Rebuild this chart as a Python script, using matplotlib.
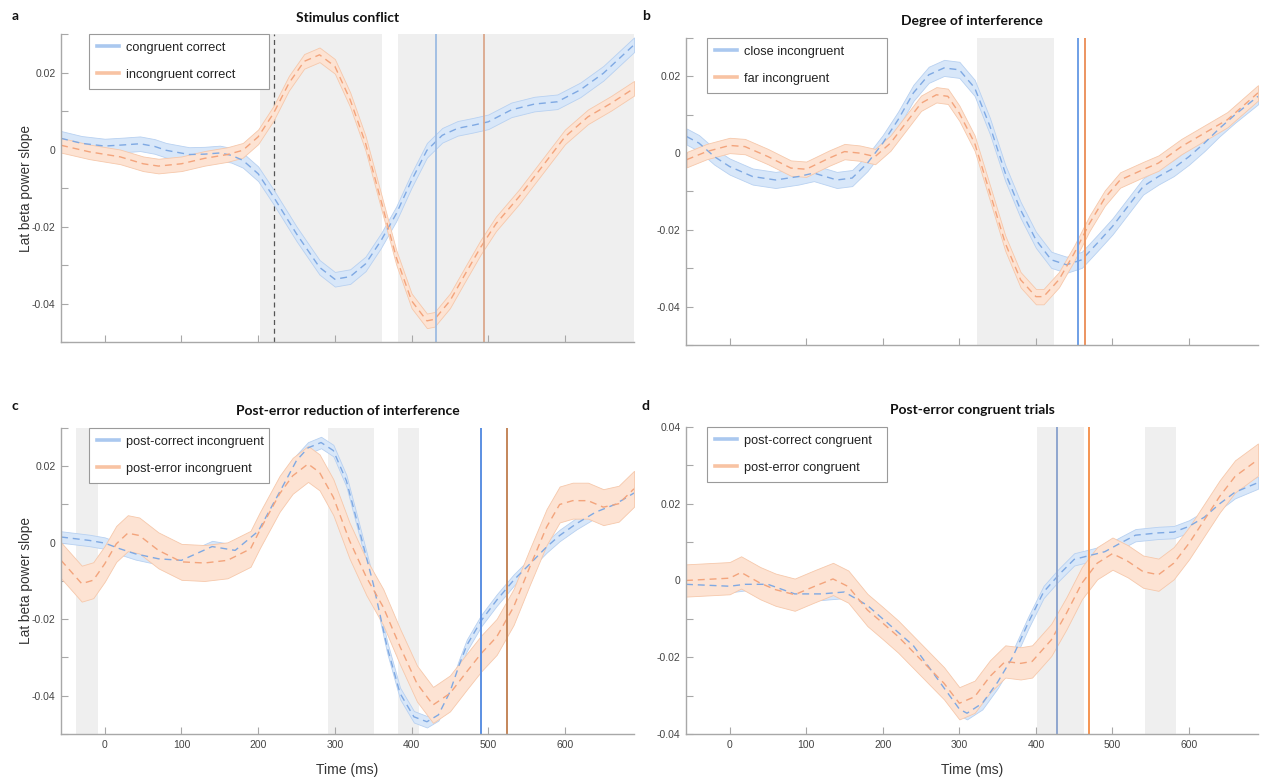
import numpy as np
import matplotlib
matplotlib.use("Agg")
import matplotlib.pyplot as plt
from matplotlib.lines import Line2D

plt.rcParams['font.family'] = ['Liberation Sans', 'DejaVu Sans']

# ---- panel a: stimulus conflict ----
a_t_cong = [-57, -30, 0, 25, 46, 65, 80, 110, 130, 150, 165, 180, 200, 220, 250, 280, 300, 320,
            340, 360, 380, 400, 420, 440, 460, 480, 500, 530, 560, 590, 620, 650, 690]
a_y_cong = [0.0029, 0.0016, 0.0009, 0.0012, 0.0015, 0.0008, -0.0002, -0.0013, -0.0012, -0.0009,
            -0.0015, -0.0028, -0.0063, -0.0123, -0.0219, -0.0306, -0.0337, -0.0330, -0.0297,
            -0.0237, -0.0167, -0.0080, -0.0002, 0.0037, 0.0055, 0.0063, 0.0072, 0.0103, 0.0118,
            0.0124, 0.0155, 0.0198, 0.0272]
a_t_incong = [-57, -20, 20, 50, 70, 100, 130, 160, 180, 200, 220, 240, 260, 280, 300, 320, 340,
              360, 380, 400, 420, 430, 450, 470, 490, 510, 540, 570, 600, 630, 660, 690]
a_y_incong = [0.0011, -0.0006, -0.0019, -0.0037, -0.0043, -0.0037, -0.0023, -0.0013, -0.0002,
              0.0033, 0.0094, 0.0172, 0.0229, 0.0246, 0.0216, 0.0129, 0.0016, -0.0132, -0.0280,
              -0.0393, -0.0445, -0.0441, -0.0393, -0.0323, -0.0254, -0.0193, -0.0123, -0.0045,
              0.0033, 0.0085, 0.0120, 0.0159]
a_sem = (0.0019, 0.0019)
a_shade = [(202, 362), (382, 690)]
a_onset = 221
a_vlines = [432, 494]

# ---- panel b: degree of interference ----
b_t_close = [-56, -40, -20, 0, 30, 60, 90, 110, 140, 160, 180, 200, 220, 240, 260, 280, 300, 320,
             340, 360, 380, 400, 420, 440, 460, 480, 500, 520, 540, 560, 580, 600, 620, 640, 660, 690]
b_y_close = [0.0043, 0.0026, -0.0009, -0.0035, -0.0061, -0.0070, -0.0061, -0.0052, -0.0070,
             -0.0065, -0.0026, 0.0026, 0.0087, 0.0157, 0.0204, 0.0222, 0.0217, 0.0170, 0.0070,
             -0.0052, -0.0148, -0.0226, -0.0278, -0.0291, -0.0278, -0.0235, -0.0191, -0.0139,
             -0.0087, -0.0061, -0.0039, -0.0009, 0.0026, 0.0065, 0.0100, 0.0148]
b_t_far = [-56, -30, 0, 20, 50, 80, 100, 130, 150, 170, 190, 210, 230, 250, 270, 285, 300, 320,
           340, 360, 380, 400, 410, 430, 450, 470, 490, 510, 540, 560, 590, 620, 650, 690]
b_y_far = [-0.0017, 0.0004, 0.0020, 0.0017, -0.0009, -0.0039, -0.0042, -0.0013, 0.0004, 0.0000,
           -0.0009, 0.0026, 0.0078, 0.0130, 0.0152, 0.0148, 0.0104, 0.0026, -0.0104, -0.0235,
           -0.0330, -0.0374, -0.0374, -0.0330, -0.0261, -0.0183, -0.0117, -0.0070, -0.0043,
           -0.0026, 0.0017, 0.0052, 0.0087, 0.0157]
b_sem = (0.0021, 0.0020)
b_shade = [(323, 423)]
b_vlines = [455, 464]

# ---- panel c: post-error reduction of interference ----
c_t_pc = [-57, -20, 0, 20, 40, 70, 100, 140, 170, 200, 230, 250, 265, 282, 298, 315, 332, 350,
          368, 385, 403, 420, 435, 450, 462, 472, 491, 511, 533, 550, 576, 593, 615, 640, 665, 690]
c_y_pc = [0.0015, 0.0006, -0.0001, -0.0016, -0.0029, -0.0042, -0.0046, -0.0010, -0.0020, 0.0030,
          0.0140, 0.0215, 0.0248, 0.0262, 0.0241, 0.0162, 0.0032, -0.0107, -0.0272, -0.0394,
          -0.0455, -0.0468, -0.0450, -0.0390, -0.0320, -0.0268, -0.0203, -0.0150, -0.0098,
          -0.0064, -0.0011, 0.0019, 0.0050, 0.0080, 0.0100, 0.0130]
c_t_pe = [-57, -30, -15, 0, 15, 30, 45, 70, 100, 130, 160, 190, 202, 228, 245, 265, 280, 298,
          319, 341, 363, 385, 407, 428, 450, 472, 491, 511, 533, 554, 576, 593, 610, 630, 650,
          670, 690]
c_y_pe = [-0.0046, -0.0107, -0.0098, -0.0055, -0.0003, 0.0025, 0.0019, -0.0020, -0.0050, -0.0053,
          -0.0046, -0.0016, 0.0032, 0.0128, 0.0175, 0.0206, 0.0184, 0.0119, 0.0006, -0.0090,
          -0.0168, -0.0272, -0.0368, -0.0424, -0.0394, -0.0337, -0.0289, -0.0246, -0.0168,
          -0.0064, 0.0041, 0.0100, 0.0110, 0.0110, 0.0093, 0.0102, 0.0141]
c_sem = (0.0015, 0.0047)
c_shade = [(-38, -9), (291, 351), (382, 410)]
c_vlines = [490, 524]

# ---- panel d: post-error congruent trials ----
d_t_pc = [-57, 0, 20, 50, 85, 120, 150, 180, 200, 240, 280, 300, 310, 330, 350, 370, 390, 410,
          430, 450, 470, 490, 510, 530, 560, 580, 600, 620, 640, 660, 690]
d_y_pc = [-0.0010, -0.0015, -0.0010, -0.0010, -0.0035, -0.0035, -0.0030, -0.0065, -0.0100,
          -0.0170, -0.0280, -0.0335, -0.0346, -0.0320, -0.0265, -0.0198, -0.0110, -0.0030,
          0.0015, 0.0055, 0.0065, 0.0075, 0.0097, 0.0118, 0.0124, 0.0126, 0.0141, 0.0165,
          0.0200, 0.0230, 0.0255]
d_t_pe = [-57, 0, 15, 40, 60, 85, 110, 135, 155, 180, 200, 220, 250, 280, 300, 320, 340, 360,
          380, 395, 420, 440, 460, 480, 500, 520, 540, 560, 580, 600, 620, 640, 660, 690]
d_y_pe = [0.0000, 0.0006, 0.0021, -0.0007, -0.0024, -0.0037, -0.0016, 0.0004, -0.0016, -0.0077,
          -0.0111, -0.0146, -0.0207, -0.0268, -0.0320, -0.0303, -0.0250, -0.0211, -0.0216,
          -0.0211, -0.0155, -0.0085, -0.0007, 0.0045, 0.0070, 0.0050, 0.0023, 0.0015, 0.0045,
          0.0097, 0.0158, 0.0219, 0.0271, 0.0315]
d_sem = (0.0016, 0.0042)
d_shade = [(402, 463), (542, 583)]
d_vlines = [428, 469]

BLUE_FILL, BLUE_EDGE, BLUE_LINE = '#d8e7f9', '#b8d1f1', '#7fa9e3'
ORNG_FILL, ORNG_EDGE, ORNG_LINE = '#fde3d3', '#f6c8ab', '#f3a47c'
SHADE = '#efefef'
AXCOL = '#a8a8a8'


def band(ax, t, y, sem, fill, edge, line):
    t = np.asarray(t)
    y = np.asarray(y)
    ax.fill_between(t, y - sem, y + sem, facecolor=fill, edgecolor=edge, lw=0.6, zorder=3)
    ax.plot(t, y, color=line, lw=1.0, dashes=(5, 3.5), zorder=4)


def style_axes(ax, ylim, show_xlabels):
    ax.set_xlim(-57, 690)
    ax.set_ylim(*ylim)
    for s in ('top', 'right'):
        ax.spines[s].set_visible(False)
    for s in ('left', 'bottom'):
        ax.spines[s].set_color(AXCOL)
        ax.spines[s].set_linewidth(1.0)
        ax.spines[s].set_zorder(6)
    ax.set_xticks(range(0, 601, 100))
    if show_xlabels:
        ax.set_xticklabels([str(v) for v in range(0, 601, 100)])
    else:
        ax.set_xticklabels([])
    yt = np.round(np.arange(ylim[0], ylim[1] + 1e-9, 0.01), 3)
    ax.set_yticks(yt)
    labels = []
    for v in yt:
        k = int(round(v * 100))
        if k % 2 == 0:
            labels.append('0' if k == 0 else '%.2f' % v)
        else:
            labels.append('')
    ax.set_yticklabels(labels)
    ax.tick_params(direction='in', length=5, width=0.8, color=AXCOL,
                   labelsize=7.5, labelcolor='#444444', pad=4)


def legend(ax, x0, labels):
    handles = [Line2D([], [], color='#aac8ef', lw=2.6),
               Line2D([], [], color='#f8c3a3', lw=2.6)]
    leg = ax.legend(handles, labels, loc='upper left', bbox_to_anchor=(x0, 1.0, 0.314, 0.0),
                    mode='expand', borderaxespad=0, fancybox=False, framealpha=1,
                    edgecolor='#9a9a9a', fontsize=9.2, handlelength=1.7, handletextpad=0.6,
                    labelspacing=1.15, borderpad=0.62)
    leg.get_frame().set_linewidth(0.8)
    leg.set_zorder(10)
    for txt in leg.get_texts():
        txt.set_color('#222222')


fig = plt.figure(figsize=(12.61, 7.80), dpi=100)
ax_a = fig.add_axes([0.0484, 0.5615, 0.4544, 0.3949])
ax_b = fig.add_axes([0.5440, 0.5577, 0.4536, 0.3936])
ax_c = fig.add_axes([0.0484, 0.0590, 0.4544, 0.3923])
ax_d = fig.add_axes([0.5440, 0.0590, 0.4536, 0.3936])

# panel a
for lo, hi in a_shade:
    ax_a.axvspan(lo, hi, color=SHADE, lw=0, zorder=1)
ax_a.axvline(a_onset, color='#555555', lw=0.9, ls=(0, (4, 3)), zorder=2)
ax_a.axvline(a_vlines[0], color='#9dbbe2', lw=1.3, zorder=5)
ax_a.axvline(a_vlines[1], color='#dba88c', lw=1.3, zorder=5)
band(ax_a, a_t_cong, a_y_cong, a_sem[0], BLUE_FILL, BLUE_EDGE, BLUE_LINE)
band(ax_a, a_t_incong, a_y_incong, a_sem[1], ORNG_FILL, ORNG_EDGE, ORNG_LINE)
style_axes(ax_a, (-0.05, 0.03), False)
legend(ax_a, 0.049, ['congruent correct', 'incongruent correct'])

# panel b
for lo, hi in b_shade:
    ax_b.axvspan(lo, hi, color=SHADE, lw=0, zorder=1)
ax_b.axvline(b_vlines[0], color='#6f9fe6', lw=1.4, zorder=5)
ax_b.axvline(b_vlines[1], color='#ec9460', lw=1.4, zorder=5)
band(ax_b, b_t_close, b_y_close, b_sem[0], BLUE_FILL, BLUE_EDGE, BLUE_LINE)
band(ax_b, b_t_far, b_y_far, b_sem[1], ORNG_FILL, ORNG_EDGE, ORNG_LINE)
style_axes(ax_b, (-0.05, 0.03), False)
legend(ax_b, 0.037, ['close incongruent', 'far incongruent'])

# panel c
for lo, hi in c_shade:
    ax_c.axvspan(lo, hi, color=SHADE, lw=0, zorder=1)
ax_c.axvline(c_vlines[0], color='#5b8fe2', lw=1.4, zorder=5)
ax_c.axvline(c_vlines[1], color='#c4865a', lw=1.4, zorder=5)
band(ax_c, c_t_pc, c_y_pc, c_sem[0], BLUE_FILL, BLUE_EDGE, BLUE_LINE)
band(ax_c, c_t_pe, c_y_pe, c_sem[1], ORNG_FILL, ORNG_EDGE, ORNG_LINE)
style_axes(ax_c, (-0.05, 0.03), True)
legend(ax_c, 0.049, ['post-correct incongruent', 'post-error incongruent'])

# panel d
for lo, hi in d_shade:
    ax_d.axvspan(lo, hi, color=SHADE, lw=0, zorder=1)
ax_d.axvline(d_vlines[0], color='#8fa6cf', lw=1.4, zorder=5)
ax_d.axvline(d_vlines[1], color='#f59552', lw=1.4, zorder=5)
band(ax_d, d_t_pc, d_y_pc, d_sem[0], BLUE_FILL, BLUE_EDGE, BLUE_LINE)
band(ax_d, d_t_pe, d_y_pe, d_sem[1], ORNG_FILL, ORNG_EDGE, ORNG_LINE)
style_axes(ax_d, (-0.04, 0.04), True)
legend(ax_d, 0.037, ['post-correct congruent', 'post-error congruent'])

titles = ['Stimulus conflict', 'Degree of interference',
          'Post-error reduction of interference', 'Post-error congruent trials']
letters = ['a', 'b', 'c', 'd']
for ax, title in zip((ax_a, ax_b, ax_c, ax_d), titles):
    ax.set_title(title, family=['Lato', 'DejaVu Sans'], fontweight='bold', fontsize=10,
                 color='#111111', pad=9)

for (x, y), letter in zip([(0.009, 0.979), (0.509, 0.979), (0.009, 0.480), (0.509, 0.480)], letters):
    fig.text(x, y, letter, family=['Lato', 'DejaVu Sans'], fontweight='bold', fontsize=10,
             color='#111111', ha='left', va='center')

for ax in (ax_a, ax_c):
    ax.set_ylabel('Lat beta power slope', fontsize=9.8, color='#333333', labelpad=-1)
for ax in (ax_c, ax_d):
    ax.set_xlabel('Time (ms)', fontsize=10, color='#333333', labelpad=10)

fig.savefig('out.png', dpi=100)
